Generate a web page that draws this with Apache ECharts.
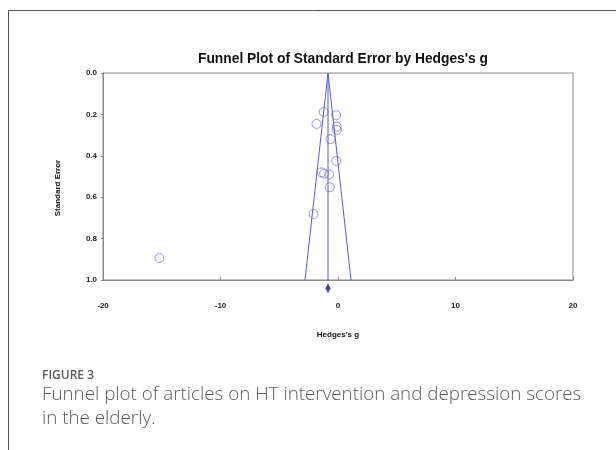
<!DOCTYPE html>
<html>
<head>
<meta charset="utf-8">
<script src="https://cdn.jsdelivr.net/npm/echarts@6/dist/echarts.min.js"></script>
<style>
html,body{margin:0;padding:0;background:#fff;}
#c{width:616px;height:450px;}
</style>
</head>
<body>
<div id="c"></div>
<script>
// Study data (Hedges's g, standard error)
var hedgesG = [-1.22, -0.15, -1.83, -0.10, -0.10, -0.64, -0.15, -1.41, -1.18, -0.75, -0.70, -2.08, -15.2];
var stdErr  = [0.188, 0.204, 0.246, 0.259, 0.275, 0.319, 0.425, 0.480, 0.486, 0.490, 0.552, 0.681, 0.894];
// Funnel (pseudo 95% limits) and summary effect
var funnelG  = [-2.81, -0.85, 1.11];
var funnelSE = [1.0, 0.0, 1.0];
var meanLineG  = [-0.85, -0.85];
var meanLineSE = [0.0, 1.0];
var summaryG = [-0.85];
var summarySE = [1.04];
var xTicks = [-20, -10, 0, 10, 20];
var yTicks = [0.0, 0.2, 0.4, 0.6, 0.8, 1.0];

function zip(a, b) { return a.map(function (v, i) { return [v, b[i]]; }); }

var chart = echarts.init(document.getElementById('c'), null, {renderer: 'canvas'});
var lineCol = '#5a5ad0';
var ptCol = '#7a7ad8';
chart.setOption({
  animation: false,
  backgroundColor: '#fff',
  title: {
    text: "Funnel Plot of Standard Error by Hedges's g",
    left: 338, top: 47, textAlign: 'center',
    textStyle: {fontFamily: 'Liberation Sans, Arial', fontSize: 13.8, fontWeight: 'bold', color: '#111'}
  },
  grid: {left: 103, right: 43, top: 73, bottom: 170, show: true, borderColor: '#888', borderWidth: 1, backgroundColor: 'transparent'},
  xAxis: {
    type: 'value', min: xTicks[0], max: xTicks[xTicks.length - 1], interval: 10,
    axisLine: {show: true, onZero: false, lineStyle: {color: '#888', width: 1}},
    axisTick: {show: true, inside: true, length: 3, lineStyle: {color: '#888'}},
    splitLine: {show: false},
    axisLabel: {margin: 22, fontFamily: 'Liberation Sans, Arial', fontSize: 8, fontWeight: 'bold', color: '#222'},
    name: "Hedges's g", nameLocation: 'middle', nameGap: 51,
    nameTextStyle: {fontFamily: 'Liberation Sans, Arial', fontSize: 8, fontWeight: 'bold', color: '#111'}
  },
  yAxis: {
    type: 'value', inverse: true, min: yTicks[0], max: yTicks[yTicks.length - 1], interval: 0.2,
    axisLine: {show: true, onZero: false, lineStyle: {color: '#888', width: 1}},
    axisTick: {show: true, length: 2, lineStyle: {color: '#888'}},
    splitLine: {show: false},
    axisLabel: {margin: 6, fontFamily: 'Liberation Sans, Arial', fontSize: 8, fontWeight: 'bold', color: '#222',
      formatter: function (v) { return v.toFixed(1); }}
  },
  graphic: [
    {type: 'line', shape: {x1: 8.5, y1: 10.5, x2: 616, y2: 10.5}, style: {stroke: '#555', lineWidth: 1}},
    {type: 'line', shape: {x1: 8.5, y1: 10.5, x2: 8.5, y2: 450}, style: {stroke: '#555', lineWidth: 1}},
    {type: 'text', x: 58, y: 188, rotation: Math.PI / 2,
      style: {text: 'Standard Error', font: 'bold 8px "Liberation Sans", Arial', fill: '#111', textAlign: 'center', textVerticalAlign: 'middle'}},
    {type: 'text', x: 42, y: 370,
      style: {text: 'FIGURE 3', font: '600 12px "Open Sans"', fill: '#5a5a5a'}},
    {type: 'text', x: 42, y: 385,
      style: {text: 'Funnel plot of articles on HT intervention and depression scores', font: '300 18.8px "Open Sans"', fill: '#5a5a5a'}},
    {type: 'text', x: 42, y: 409,
      style: {text: 'in the elderly.', font: '300 18.8px "Open Sans"', fill: '#5a5a5a'}}
  ],
  series: [
    {type: 'line', data: zip(funnelG, funnelSE), symbol: 'none', lineStyle: {color: lineCol, width: 1}, silent: true},
    {type: 'line', data: zip(meanLineG, meanLineSE), symbol: 'none', lineStyle: {color: lineCol, width: 1}, silent: true},
    {type: 'scatter', data: zip(hedgesG, stdErr), symbol: 'circle', symbolSize: 9,
      itemStyle: {color: 'transparent', borderColor: ptCol, borderWidth: 1}},
    {type: 'scatter', data: zip(summaryG, summarySE), symbol: 'diamond', symbolSize: [5, 10], clip: false,
      itemStyle: {color: '#10108a'}}
  ]
});
</script>
</body>
</html>
